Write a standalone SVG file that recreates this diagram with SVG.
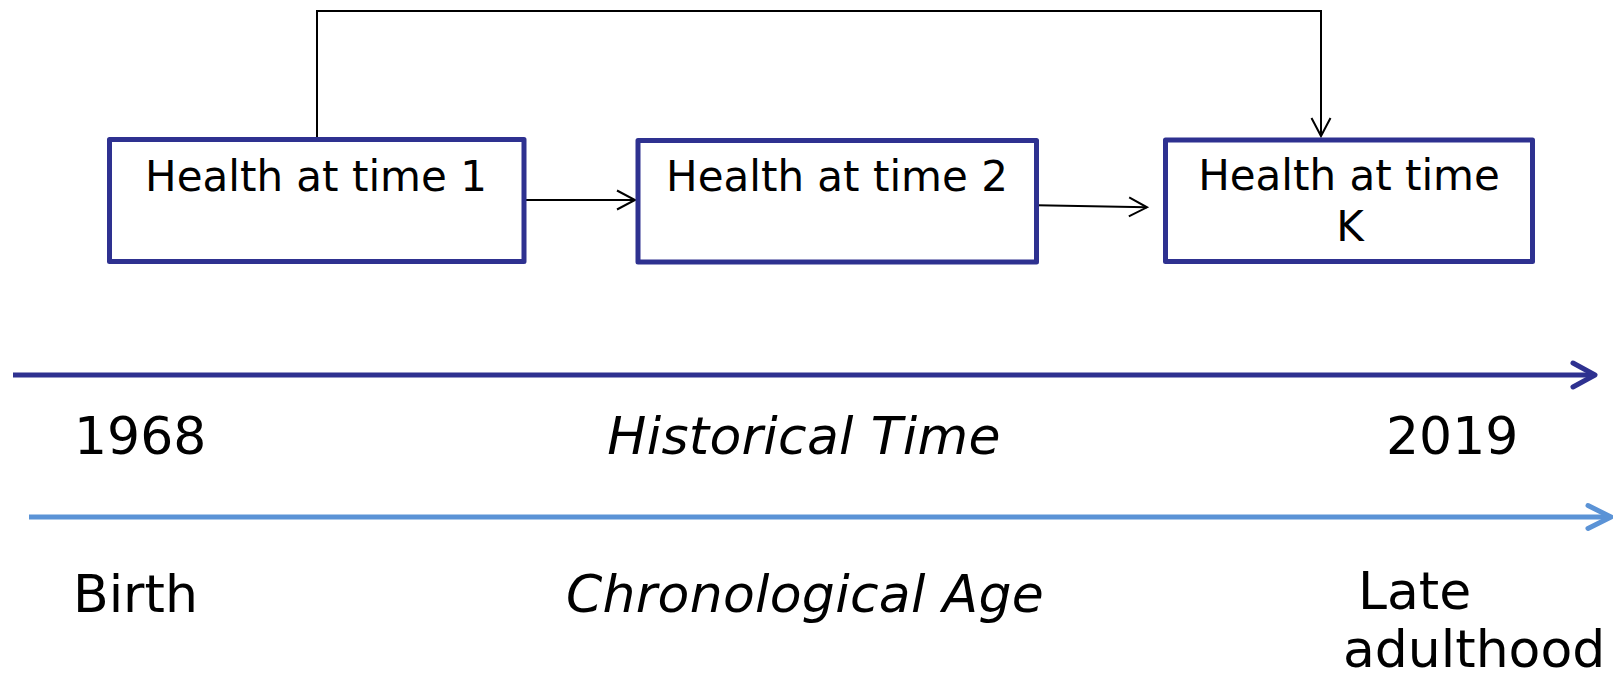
<svg xmlns="http://www.w3.org/2000/svg" width="1613" height="676" viewBox="0 0 1613 676">
<style>
.box{fill:#fff;stroke:#2E3190;stroke-width:5;stroke-linejoin:round}
.lbl{font-family:"DejaVu Sans","Verdana",sans-serif;font-size:42px;fill:#000;text-anchor:middle}
.big{font-family:"DejaVu Sans","Verdana",sans-serif;font-size:52px;fill:#000}
.it{font-style:italic;text-anchor:middle;letter-spacing:0.3px}
.conn{fill:none;stroke:#000;stroke-width:2}
</style>
<defs>
<marker id="open" markerUnits="userSpaceOnUse" viewBox="-21 -12 24 24" markerWidth="24" markerHeight="24" refX="0" refY="0" orient="auto">
<path d="M-18,-9.5 L0,0 L-18,9.5" fill="none" stroke="#000" stroke-width="2"/>
</marker>
</defs>
<rect width="1613" height="676" fill="#fff"/>
<g id="connectors">
<path class="conn" d="M317,139 V11 H1321 V136" marker-end="url(#open)"/>
<path class="conn" d="M524,200 H635" marker-end="url(#open)"/>
<path class="conn" d="M1037,205.3 L1147,207.3" marker-end="url(#open)"/>
</g>
<g id="node1">
<rect class="box" x="109.5" y="139.5" width="414.5" height="122"/>
<text class="lbl" x="316" y="191">Health at time 1</text>
</g>
<g id="node2">
<rect class="box" x="638" y="140.5" width="398.5" height="121.5"/>
<text class="lbl" x="837" y="191">Health at time 2</text>
</g>
<g id="nodeK">
<rect class="box" x="1165.5" y="140" width="367" height="121.5"/>
<text class="lbl" x="1349" y="190">Health at time</text>
<text class="lbl" x="1350" y="241">K</text>
</g>
<g id="historical-axis">
<line x1="13" y1="375" x2="1592" y2="375" stroke="#2E3190" stroke-width="5"/>
<path d="M1573,363 L1595,375 L1573,387" fill="none" stroke="#2E3190" stroke-width="5" stroke-linecap="round" stroke-linejoin="round"/>
<text class="big" x="74" y="454">1968</text>
<text class="big it" x="804" y="454">Historical Time</text>
<text class="big" x="1386" y="454">2019</text>
</g>
<g id="age-axis">
<line x1="29" y1="517" x2="1608" y2="517" stroke="#5B93D6" stroke-width="5"/>
<path d="M1588,505.5 L1611,517 L1588,528.5" fill="none" stroke="#5B93D6" stroke-width="5" stroke-linecap="round" stroke-linejoin="round"/>
<text class="big" x="73" y="612">Birth</text>
<text class="big it" x="805" y="612">Chronological Age</text>
<text class="big" x="1358" y="609">Late</text>
<text class="big" x="1343" y="667" font-size="51">adulthood</text>
</g>
</svg>
